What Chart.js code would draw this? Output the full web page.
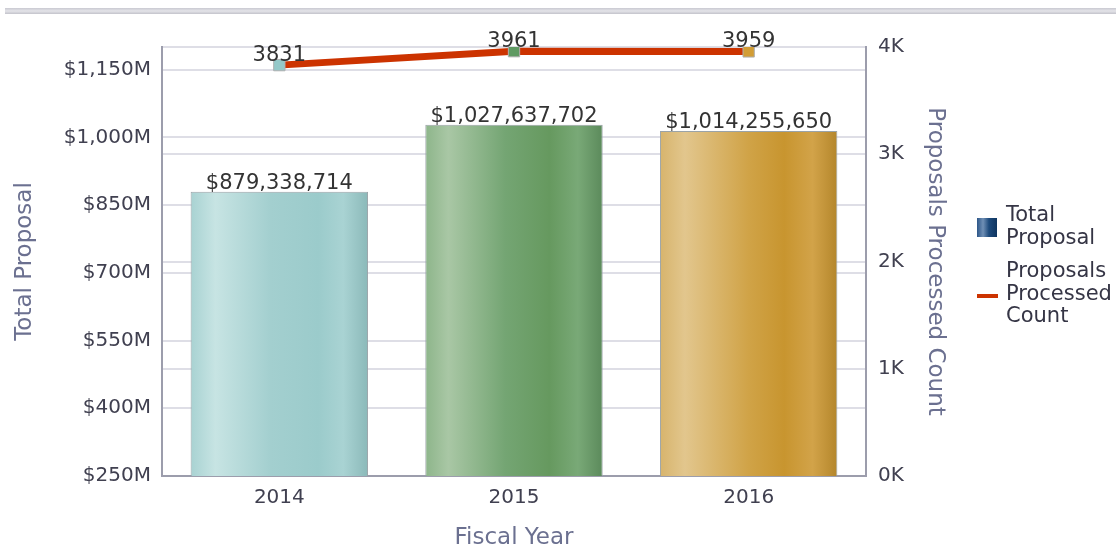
<!DOCTYPE html>
<html><head><meta charset="utf-8">
<script src="https://cdn.jsdelivr.net/npm/chart.js@4"></script>
<style>html,body{margin:0;padding:0;background:#fff;}#wrap{width:1116px;height:550px;position:relative}</style>
</head><body><div id="wrap"><canvas id="c" width="1116" height="550"></canvas></div>
<script>
const categories = ['2014', '2015', '2016'];
const totalProposal = [879338714, 1027637702, 1014255650];
const processedCount = [3831, 3961, 3959];
const leftTicks = [250e6, 400e6, 550e6, 700e6, 850e6, 1000e6, 1150e6];
const leftMin = 250e6, leftMax = 1200e6;
const rightTicks = [0, 1000, 2000, 3000, 4000];
const rightMin = 0, rightMax = 4000;
const xTitle = 'Fiscal Year';
const leftTitle = 'Total Proposal';
const rightTitle = 'Proposals Processed Count';
const legendLines = [['Total', 'Proposal'], ['Proposals', 'Processed', 'Count']];

const BAR_PCT = 0.756;
const FONT = '"DejaVu Sans", sans-serif';
const barStops = [
  [[0,'#a8d2d2'],[0.14,'#c7e4e3'],[0.45,'#a3cfcf'],[0.72,'#9bcbcb'],[0.86,'#a9d3d3'],[1,'#8bb9b9']],
  [[0,'#8db58a'],[0.13,'#a9c7a5'],[0.45,'#74a573'],[0.7,'#66995f'],[0.86,'#79a977'],[1,'#5b8a5b']],
  [[0,'#d7b46c'],[0.14,'#e2c68d'],[0.5,'#d0a347'],[0.7,'#c8952f'],[0.86,'#d2a349'],[1,'#b4862b']]
];
const pointColors = ['#94c9c9', '#5f9a62', '#d29d35'];

function barFill(ctx) {
  const chart = ctx.chart, i = ctx.dataIndex;
  const stops = barStops[i % barStops.length];
  if (!chart.chartArea || !chart.scales.x || i === undefined) return stops[3][1];
  const xs = chart.scales.x;
  const w = (xs.width / categories.length) * BAR_PCT;
  const cx = xs.getPixelForValue(i);
  const g = chart.ctx.createLinearGradient(cx - w / 2, 0, cx + w / 2, 0);
  stops.forEach(([o, c]) => g.addColorStop(o, c));
  return g;
}

const decoPlugin = {
  id: 'deco',
  beforeDraw(chart) {
    const c = chart.ctx;
    c.save();
    const g = c.createLinearGradient(0, 8, 0, 14);
    g.addColorStop(0, '#c9c9d1'); g.addColorStop(0.5, '#e4e4e9'); g.addColorStop(1, '#c3c3cb');
    c.fillStyle = g;
    c.fillRect(5, 8, 1111, 6);
    c.restore();
  },
  afterDraw(chart) {
    const c = chart.ctx;
    c.save();
    c.font = '21px ' + FONT;
    c.fillStyle = '#333333';
    c.textAlign = 'center';
    c.textBaseline = 'alphabetic';
    const barMeta = chart.getDatasetMeta(0);
    barMeta.data.forEach((el, i) => {
      c.fillText('$' + totalProposal[i].toLocaleString('en-US'), el.x, el.y - 3);
    });
    const lineMeta = chart.getDatasetMeta(1);
    lineMeta.data.forEach((el, i) => {
      c.fillText(String(processedCount[i]), el.x, el.y - 4);
    });
    const lx = 977, tx = 1006;
    const g = c.createLinearGradient(lx, 0, lx + 20, 0);
    g.addColorStop(0, '#2d5688'); g.addColorStop(0.3, '#6f8fb5'); g.addColorStop(0.6, '#1d4a7c'); g.addColorStop(1, '#0f3560');
    c.fillStyle = g;
    c.fillRect(lx, 218, 20, 19);
    c.fillStyle = '#cc3300';
    c.fillRect(lx, 294, 21, 4);
    c.fillStyle = '#353545';
    c.textAlign = 'left';
    c.textBaseline = 'middle';
    c.font = '21px ' + FONT;
    const ys = [[216, 239], [272, 295, 317]];
    legendLines.forEach((lines, k) => lines.forEach((t, j) => c.fillText(t, tx, ys[k][j])));
    c.restore();
  }
};

new Chart(document.getElementById('c'), {
  type: 'bar',
  data: {
    labels: categories,
    datasets: [
      {
        type: 'bar', label: 'Total Proposal', data: totalProposal, yAxisID: 'y', order: 2,
        backgroundColor: barFill, borderColor: '#9aa3a8', borderWidth: 1,
        barPercentage: BAR_PCT, categoryPercentage: 1
      },
      {
        type: 'line', label: 'Proposals Processed Count', data: processedCount, yAxisID: 'y1', order: 1,
        borderColor: '#cc3300', borderWidth: 7, tension: 0, fill: false,
        pointStyle: 'rect', pointRadius: 8, pointHoverRadius: 8,
        pointBackgroundColor: pointColors, pointBorderColor: '#b0b0b0', pointBorderWidth: 1
      }
    ]
  },
  options: {
    responsive: false, animation: false,
    layout: { padding: { top: 47, right: 161, left: 0, bottom: 0 } },
    plugins: { legend: { display: false }, tooltip: { enabled: false } },
    scales: {
      x: {
        offset: true,
        grid: { display: false, drawTicks: false },
        border: { display: true, color: '#9c9dac', width: 2 },
        ticks: { font: { family: FONT, size: 20 }, color: '#404050', padding: 10 },
        title: { display: true, text: xTitle, font: { family: FONT, size: 23, lineHeight: 1.0 }, color: '#6b7090', padding: { top: 0, bottom: 0 } },
        afterFit(s) { s.height = 74; }
      },
      y: {
        position: 'left', min: leftMin, max: leftMax,
        afterBuildTicks(s) { s.ticks = leftTicks.map(v => ({ value: v })); },
        grid: { color: '#dedee6', lineWidth: 2, drawTicks: false },
        border: { display: true, color: '#9c9dac', width: 2 },
        ticks: { font: { family: FONT, size: 20 }, color: '#404050', padding: 11,
          callback: v => '$' + (v / 1e6).toLocaleString('en-US') + 'M' },
        title: { display: true, text: leftTitle, font: { family: FONT, size: 23 }, color: '#6b7090', padding: { top: 11, bottom: 0 } },
        afterFit(s) { s.width = 162; }
      },
      y1: {
        position: 'right', min: rightMin, max: rightMax,
        afterBuildTicks(s) { s.ticks = rightTicks.map(v => ({ value: v })); },
        grid: { color: '#dedee6', lineWidth: 2, drawTicks: false, drawOnChartArea: true },
        border: { display: true, color: '#9c9dac', width: 2 },
        ticks: { font: { family: FONT, size: 20 }, color: '#404050', padding: 12,
          callback: v => (v / 1000) + 'K' },
        title: { display: true, text: rightTitle, font: { family: FONT, size: 23 }, color: '#6b7090', padding: { top: 6, bottom: 0 } },
        afterFit(s) { s.width = 89; }
      }
    }
  },
  plugins: [decoPlugin]
});
</script></body></html>
